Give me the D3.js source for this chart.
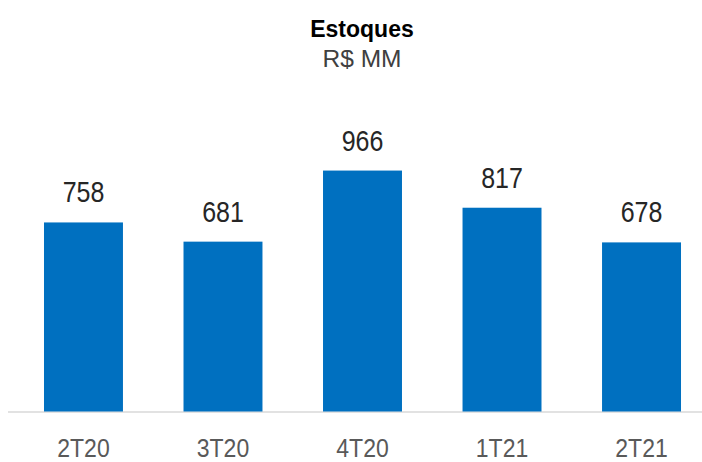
<!DOCTYPE html>
<html><head><meta charset="utf-8">
<script src="https://cdn.jsdelivr.net/npm/d3@7"></script>
<style>html,body{margin:0;padding:0;background:#fff;}svg{display:block;}</style>
</head><body>
<script>
const categories = ["2T20","3T20","4T20","1T21","2T21"];
const values = [758, 681, 966, 817, 678];
const title = "Estoques";
const subtitle = "R$ MM";

const W = 702, H = 462;
const svg = d3.select("body").append("svg").attr("width", W).attr("height", H);
const font = "'Liberation Sans', Arial, sans-serif";

const x = d3.scaleBand().domain(categories).range([8, 717]).paddingInner(0.434).paddingOuter(0.258);
const y = d3.scaleLinear().domain([0, 1200]).range([411.5, 112.2]);

svg.append("line").attr("x1", 8).attr("x2", 702).attr("y1", 412).attr("y2", 412)
  .attr("stroke", "#d9d9d9").attr("stroke-width", 1.5);

svg.selectAll("rect.bar").data(values).join("rect").attr("class","bar")
  .attr("x", (d,i) => x(categories[i]))
  .attr("width", x.bandwidth())
  .attr("y", d => y(d))
  .attr("height", d => y(0) - y(d))
  .attr("fill", "#0070C0");

svg.selectAll("g.val").data(values).join("g").attr("class","val")
  .attr("transform", (d,i) => `translate(${x(categories[i]) + x.bandwidth()/2},${y(d) - 20}) scale(1,1.16)`)
  .append("text").attr("text-anchor","middle").attr("font-family", font)
  .attr("font-size", 25).attr("fill", "#262626").text(d => d);

const xAxis = svg.append("g");
xAxis.selectAll("g").data(categories).join("g")
  .attr("transform", d => `translate(${x(d) + x.bandwidth()/2},457) scale(1,1.16)`)
  .append("text").attr("text-anchor","middle").attr("font-family", font)
  .attr("font-size", 23).attr("fill", "#595959").text(d => d);

svg.append("text").attr("x", 362).attr("y", 37).attr("text-anchor","middle")
  .attr("font-family", font).attr("font-weight","bold").attr("font-size", 23)
  .attr("fill", "#000").text(title);
svg.append("text").attr("x", 362).attr("y", 67).attr("text-anchor","middle")
  .attr("font-family", font).attr("font-size", 24.5)
  .attr("fill", "#404040").text(subtitle);
</script>
</body></html>
